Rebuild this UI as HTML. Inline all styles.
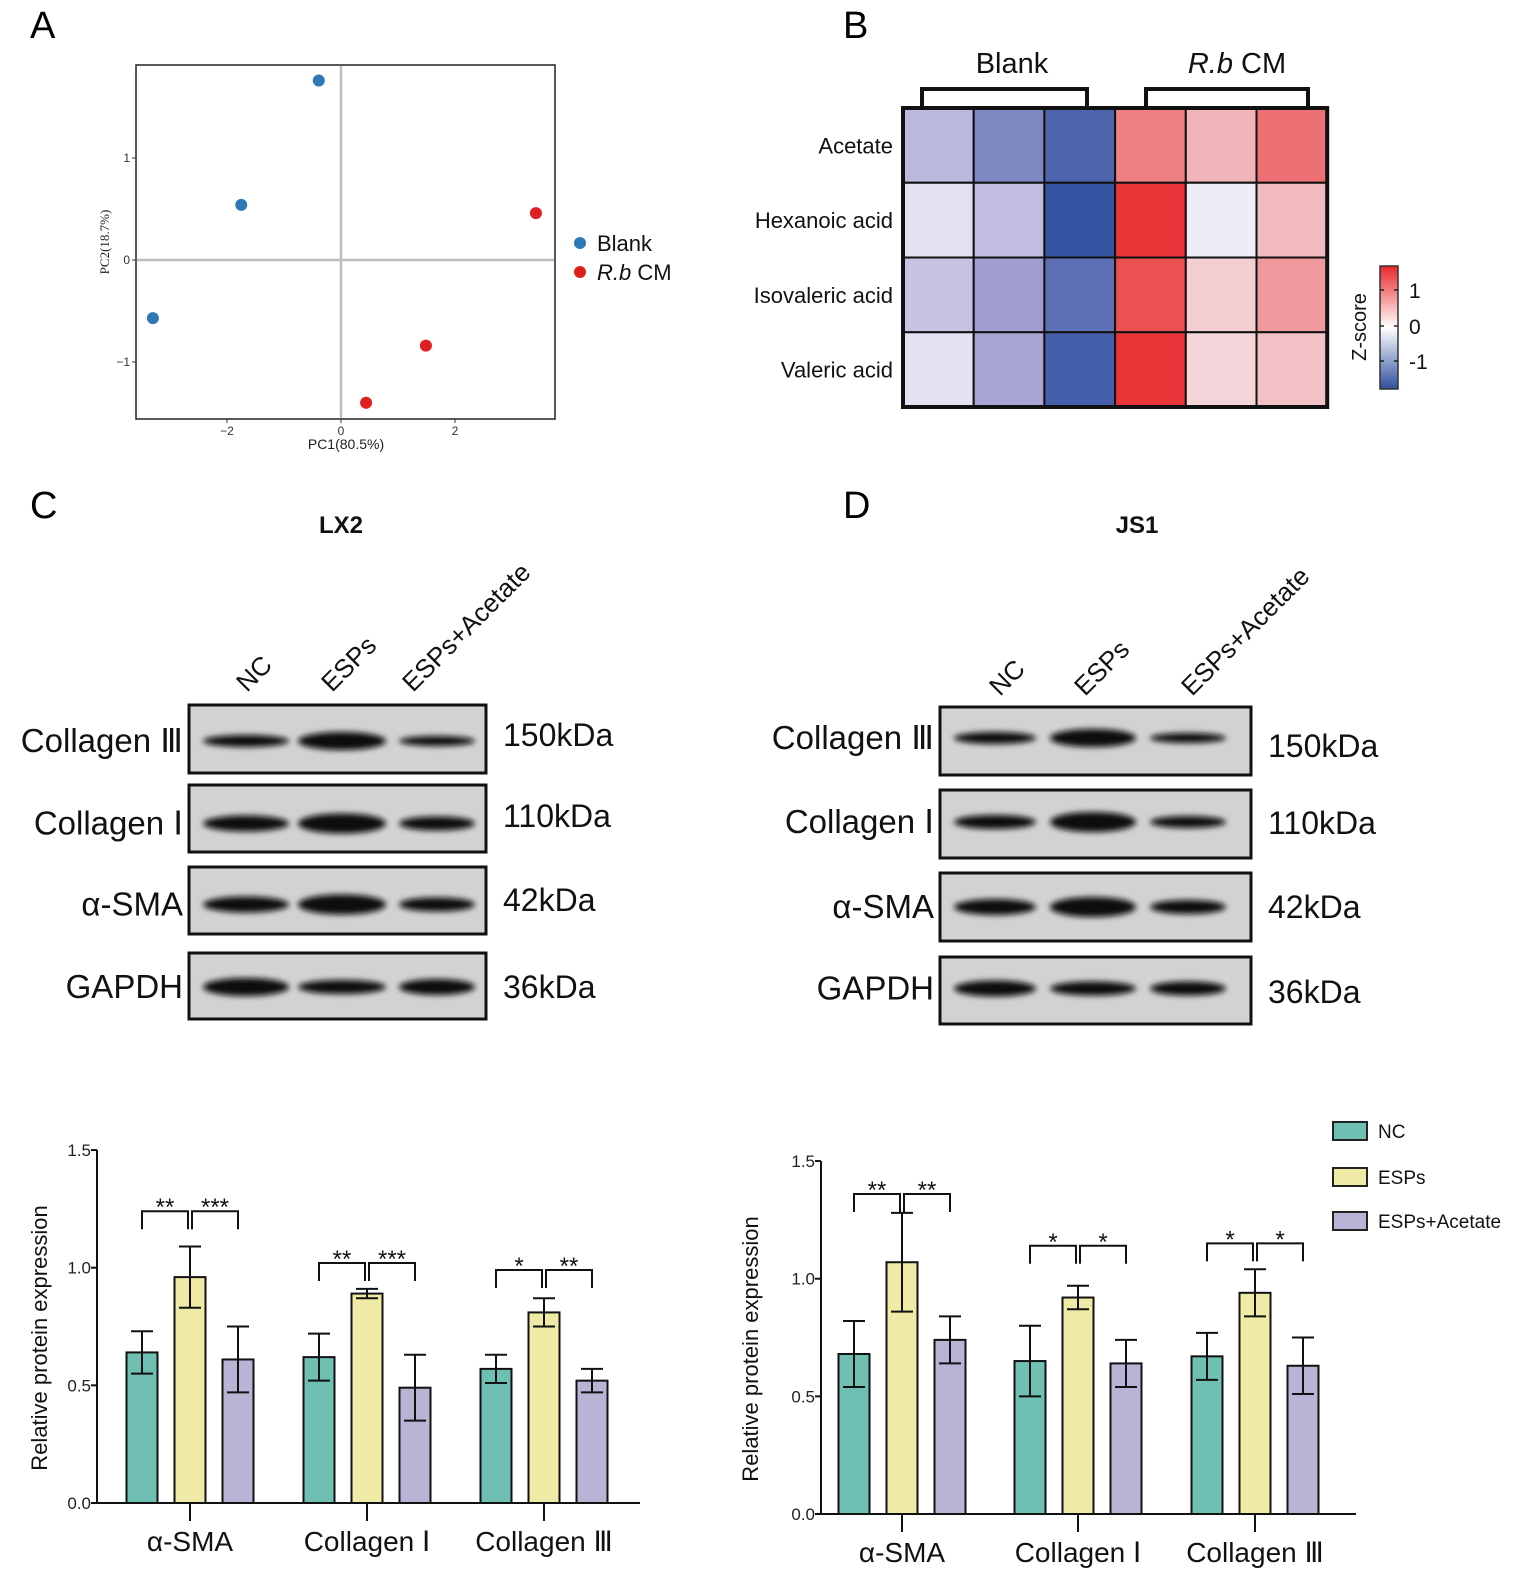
<!DOCTYPE html>
<html><head><meta charset="utf-8">
<style>
html,body{margin:0;padding:0;background:#fff;}
svg{display:block;font-family:"Liberation Sans",Arial,sans-serif;}
</style></head>
<body>
<svg id="fig" width="1535" height="1589" viewBox="0 0 1535 1589" xmlns="http://www.w3.org/2000/svg">
<defs>
  <filter id="blur" x="-20%" y="-100%" width="140%" height="300%"><feGaussianBlur stdDeviation="3"/></filter>
  <linearGradient id="zgrad" x1="0" y1="1" x2="0" y2="0">
    <stop offset="0" stop-color="#2f4fa0"/>
    <stop offset="0.5" stop-color="#ffffff"/>
    <stop offset="1" stop-color="#e8282a"/>
  </linearGradient>
</defs>
<text x="30" y="38" font-size="38">A</text>
<text x="843" y="38" font-size="38">B</text>
<text x="30" y="518" font-size="38">C</text>
<text x="843" y="518" font-size="38">D</text>

<g id="pca"></g>
<g id="heat"></g>
<g id="blotL"></g>
<g id="blotR"></g>
<g id="barL"></g>
<g id="barR"></g>
</svg>
<script>
// ---------- PCA data ----------
const pcaBlankX = [-0.39, -1.75, -3.3];
const pcaBlankY = [1.76, 0.54, -0.57];
const pcaRbX = [3.42, 1.49, 0.44];
const pcaRbY = [0.46, -0.84, -1.4];
const pcaXTicks = [-2, 0, 2];
const pcaYTicks = [-1, 0, 1];

// ---------- Heatmap data ----------
const heatRows = ["Acetate","Hexanoic acid","Isovaleric acid","Valeric acid"];
const heatCols = ["B1","B2","B3","R1","R2","R3"];
const heatAcetate = [-0.55, -1.0, -1.3, 0.85, 0.45, 0.95];
const heatHexanoic = [-0.15, -0.5, -1.45, 1.4, -0.05, 0.4];
const heatIsovaleric = [-0.45, -0.8, -1.2, 1.2, 0.25, 0.65];
const heatValeric = [-0.15, -0.75, -1.35, 1.4, 0.2, 0.35];

// ---------- Bar data ----------
const barCategories = ["α-SMA","Collagen Ⅰ","Collagen Ⅲ"];
const barGroups = ["NC","ESPs","ESPs+Acetate"];
const lxNC = [0.64, 0.62, 0.57];
const lxNCErr = [0.09, 0.10, 0.06];
const lxESPs = [0.96, 0.89, 0.81];
const lxESPsErr = [0.13, 0.02, 0.06];
const lxAc = [0.61, 0.49, 0.52];
const lxAcErr = [0.14, 0.14, 0.05];
const lxSigLeft = ["**","**","*"];
const lxSigRight = ["***","***","**"];
const lxSigLevel = [1.24, 1.02, 0.99];
const jsNC = [0.68, 0.65, 0.67];
const jsNCErr = [0.14, 0.15, 0.10];
const jsESPs = [1.07, 0.92, 0.94];
const jsESPsErr = [0.21, 0.05, 0.10];
const jsAc = [0.74, 0.64, 0.63];
const jsAcErr = [0.10, 0.10, 0.12];
const jsSigLeft = ["**","*","*"];
const jsSigRight = ["**","*","*"];
const jsSigLevel = [1.36, 1.14, 1.15];
const barYTicks = [0.0, 0.5, 1.0, 1.5];

const NS = "http://www.w3.org/2000/svg";
function mk(parent, tag, attrs, text){
  const e = document.createElementNS(NS, tag);
  for (const k in attrs) e.setAttribute(k, attrs[k]);
  if (text !== undefined) e.textContent = text;
  parent.appendChild(e);
  return e;
}
// label with roman numeral in serif font
function romanText(el, s){
  const m = s.match(/^(.*?)([ⅠⅢ])$/);
  if (m){
    mk(el,'tspan',{},m[1]+' ');
    mk(el,'tspan',{'font-family':'Liberation Serif, serif','font-weight':'normal'},m[2]);
  } else el.textContent = s;
}

// ---------- PCA ----------
(function(){
  const g = document.getElementById('pca');
  const sx = v => 341 + v*57;
  const sy = v => 260 - v*102;
  let r = mk(g,'rect',{x:136,y:65,width:419,height:354,fill:'#fff',stroke:'#222','stroke-width':1.5});
   
  let l = mk(g,'line',{x1:sx(0),y1:66,x2:sx(0),y2:418,stroke:'#bdbdbd','stroke-width':2.5});
   
  l = mk(g,'line',{x1:137,y1:sy(0),x2:554,y2:sy(0),stroke:'#bdbdbd','stroke-width':2.5});
   
  pcaXTicks.forEach(t=>{
    let tk = mk(g,'line',{x1:sx(t),y1:419,x2:sx(t),y2:423,stroke:'#333'});
     
    let tx = mk(g,'text',{x:sx(t),y:435,'font-size':12,'text-anchor':'middle',fill:'#333'}, t<0?('−'+(-t)):String(t));
     
  });
  pcaYTicks.forEach(t=>{
    let tk = mk(g,'line',{x1:132,y1:sy(t),x2:136,y2:sy(t),stroke:'#333'});
     
    let tx = mk(g,'text',{x:130,y:sy(t)+4,'font-size':12,'text-anchor':'end',fill:'#333'}, t<0?('−'+(-t)):String(t));
     
  });
  let xt = mk(g,'text',{x:346,y:449,'font-size':14,'text-anchor':'middle',fill:'#222'},'PC1(80.5%)');
   
  let yt = mk(g,'text',{x:0,y:0,'font-size':13,'text-anchor':'middle',fill:'#222','font-family':'Liberation Serif, serif',transform:'translate(109,242) rotate(-90)'},'PC2(18.7%)');
   
  pcaBlankX.forEach((v,i)=>{
    let c = mk(g,'circle',{cx:sx(v),cy:sy(pcaBlankY[i]),r:6,fill:'#2f78b7'});
     
  });
  pcaRbX.forEach((v,i)=>{
    let c = mk(g,'circle',{cx:sx(v),cy:sy(pcaRbY[i]),r:6,fill:'#df2020'});
     
  });
  let c1 = mk(g,'circle',{cx:580,cy:243,r:6,fill:'#2f78b7'});
   
  let t1 = mk(g,'text',{x:597,y:251,'font-size':22,fill:'#111'},'Blank');
   
  let c2 = mk(g,'circle',{cx:580,cy:272,r:6,fill:'#df2020'});
   
  let t2 = mk(g,'text',{x:597,y:280,'font-size':22,fill:'#111'});
   
  mk(t2,'tspan',{'font-style':'italic'},'R.b');
  mk(t2,'tspan',{},' CM');
})();

// ---------- Heatmap ----------
(function(){
  const g = document.getElementById('heat');
  const x0=903, y0=108, cw=70.7, rh=74.75;
  function lerp(a,b,t){ return a.map((v,i)=>Math.round(v+(b[i]-v)*t)); }
  function col(z){
    z = Math.max(-1.5, Math.min(1.5, z))/1.5;
    let c;
    if (z<0){
      z=-z;
      const mid=[168,164,212];
      c = z<0.5 ? lerp([242,242,250],mid,z/0.5) : lerp(mid,[45,78,160],(z-0.5)/0.5);
    } else {
      c = lerp([245,240,245],[232,40,42],z);
    }
    return 'rgb('+c.join(',')+')';
  }
  const data = [heatAcetate, heatHexanoic, heatIsovaleric, heatValeric];
  data.forEach((row,ri)=>{
    row.forEach((v,ci)=>{
      let r = mk(g,'rect',{x:x0+ci*cw,y:y0+ri*rh,width:cw,height:rh,fill:col(v),stroke:'#111','stroke-width':2});
       
    });
    let t = mk(g,'text',{x:893,y:y0+ri*rh+rh/2+8,'font-size':22,'text-anchor':'end',fill:'#111'},heatRows[ri]);
     
  });
  let fr = mk(g,'rect',{x:x0,y:y0,width:cw*6,height:rh*4,fill:'none',stroke:'#111','stroke-width':4});
   
  let b1 = mk(g,'path',{d:'M922 106 V89 H1087 V106',fill:'none',stroke:'#111','stroke-width':4});
   
  let b2 = mk(g,'path',{d:'M1146 106 V89 H1308 V106',fill:'none',stroke:'#111','stroke-width':4});
   
  let g1 = mk(g,'text',{x:1012,y:73,'font-size':29,'text-anchor':'middle',fill:'#111'},'Blank');
   
  let g2 = mk(g,'text',{x:1237,y:73,'font-size':29,'text-anchor':'middle',fill:'#111'});
   
  mk(g2,'tspan',{'font-style':'italic'},'R.b'); mk(g2,'tspan',{},' CM');
  let cb = mk(g,'rect',{x:1380,y:266,width:18,height:123,fill:'url(#zgrad)',stroke:'#333','stroke-width':1.5});
   
  [[1,290],[0,326],[-1,361]].forEach(p=>{
    let tk = mk(g,'line',{x1:1380,y1:p[1],x2:1398,y2:p[1],stroke:'#222','stroke-width':1.5,'stroke-dasharray':'4 10'});
     
    let t = mk(g,'text',{x:1409,y:p[1]+8,'font-size':21,fill:'#111'},p[0]<0?'-1':String(p[0]));
     
  });
  let zt = mk(g,'text',{x:0,y:0,'font-size':20,'text-anchor':'middle',fill:'#111',transform:'translate(1366,327) rotate(-90)'},'Z-score');
   
})();

// ---------- Western blots ----------
function blot(id, cfg){
  const g = document.getElementById(id);
  let title = mk(g,'text',{x:cfg.titleX,y:cfg.titleY,'font-size':24,'font-weight':'bold','text-anchor':'middle',fill:'#111'},cfg.title);
   
  cfg.laneLabels.forEach((s,i)=>{
    let t = mk(g,'text',{x:0,y:0,'font-size':26,fill:'#111',transform:'translate('+cfg.laneLabelX[i]+','+cfg.laneLabelY+') rotate(-45)'},s);
     
  });
  cfg.rows.forEach((r,ri)=>{
    let bg = mk(g,'rect',{x:cfg.x,y:r[0],width:cfg.w,height:r[1]-r[0],fill:'#d2d2d2',stroke:'#111','stroke-width':3});
     
    const cy = (r[0]+r[1])/2 + cfg.bandOff[ri];
    cfg.lanes.forEach((lx,li)=>{
      const th = cfg.thick[ri][li];
      let e = mk(g,'ellipse',{cx:lx,cy:cy,rx:cfg.laneW[li]/2,ry:th,fill:'#0a0a0a',filter:'url(#blur)'});
       
    });
    let lab = mk(g,'text',{x:cfg.x-6,y:cy+11,'font-size':33,'text-anchor':'end',fill:'#111'});
    romanText(lab, cfg.names[ri]);
     
    let kd = mk(g,'text',{x:cfg.kdX,y:cfg.kdY[ri],'font-size':32,fill:'#111'},cfg.kda[ri]);
     
  });
}
blot('blotL',{title:'LX2',titleX:341,titleY:533,laneLabels:['NC','ESPs','ESPs+Acetate'],laneLabelX:[247,332,413],laneLabelY:693,
  x:189,w:297,rows:[[705,773],[785,852],[867,934],[953,1019]],bandOff:[2,5,4,1],lanes:[246,342,437],laneW:[86,88,76],
  thick:[[6,9,5],[8,10,7],[8,10,7],[9,7,8]],names:['Collagen Ⅲ','Collagen Ⅰ','α-SMA','GAPDH'],kdX:503,kdY:[746,827,911,998],kda:['150kDa','110kDa','42kDa','36kDa']});
blot('blotR',{title:'JS1',titleX:1137,titleY:533,laneLabels:['NC','ESPs','ESPs+Acetate'],laneLabelX:[1000,1085,1192],laneLabelY:697,
  x:940,w:311,rows:[[707,775],[790,858],[873,941],[957,1024]],bandOff:[-3,-2,0,-2],lanes:[995,1093,1188],laneW:[82,86,76],
  thick:[[6,9,5],[7,10,6],[8,10,7],[8,7,7]],names:['Collagen Ⅲ','Collagen Ⅰ','α-SMA','GAPDH'],kdX:1268,kdY:[757,834,918,1003],kda:['150kDa','110kDa','42kDa','36kDa']});

// ---------- Bar charts ----------
const colNC = '#6fbfb3', colESP = '#efeaa6', colAc = '#b8b4d6';
function barChart(id, cfg){
  const g = document.getElementById(id);
  const k = 235.3;
  const sy = v => cfg.y0 - v*k;
  const series = [[cfg.nc,cfg.ncE,colNC],[cfg.esp,cfg.espE,colESP],[cfg.ac,cfg.acE,colAc]];
  let ya = mk(g,'line',{x1:cfg.ax,y1:sy(1.5),x2:cfg.ax,y2:cfg.y0,stroke:'#111','stroke-width':2});
   
  let xa = mk(g,'line',{x1:cfg.ax,y1:cfg.y0,x2:cfg.axEnd,y2:cfg.y0,stroke:'#111','stroke-width':2});
   
  barYTicks.forEach(t=>{
    let tk = mk(g,'line',{x1:cfg.ax-6,y1:sy(t),x2:cfg.ax,y2:sy(t),stroke:'#111','stroke-width':2});
     
    let tx = mk(g,'text',{x:cfg.ax-6,y:sy(t)+6,'font-size':17,'text-anchor':'end',fill:'#222'},t.toFixed(1));
     
  });
  let yt = mk(g,'text',{x:0,y:0,'font-size':22,'text-anchor':'middle',fill:'#111',transform:'translate('+cfg.ytX+','+(cfg.y0-165)+') rotate(-90)'},'Relative protein expression');
   
  const bw = 31;
  barCategories.forEach((cat,ci)=>{
    const cx = cfg.centers[ci];
    let tk = mk(g,'line',{x1:cx,y1:cfg.y0,x2:cx,y2:cfg.y0+18,stroke:'#111','stroke-width':2});
     
    let lab = mk(g,'text',{x:cx,y:cfg.y0+48,'font-size':28,'text-anchor':'middle',fill:'#111'});
    romanText(lab, cat);
     
    series.forEach((s,si)=>{
      const bx = cx + (si-1)*cfg.gap;
      const v = s[0][ci], e = s[1][ci];
      let r = mk(g,'rect',{x:bx-bw/2,y:sy(v),width:bw,height:sy(0)-sy(v),fill:s[2],stroke:'#111','stroke-width':2});
       
      let el = mk(g,'path',{d:'M'+bx+' '+sy(v+e)+' V'+sy(v-e)+' M'+(bx-11)+' '+sy(v+e)+' h22 M'+(bx-11)+' '+sy(v-e)+' h22',stroke:'#111','stroke-width':2,fill:'none'});
       
    });
    const lv = sy(cfg.sig[ci]);
    const x1 = cx-cfg.gap, x2 = cx-2, x3 = cx+2, x4 = cx+cfg.gap;
    let br1 = mk(g,'path',{d:'M'+x1+' '+(lv+18)+' V'+lv+' H'+x2+' V'+(lv+18),stroke:'#111','stroke-width':2,fill:'none'});
     
    let br2 = mk(g,'path',{d:'M'+x3+' '+(lv+18)+' V'+lv+' H'+x4+' V'+(lv+18),stroke:'#111','stroke-width':2,fill:'none'});
     
    let s1 = mk(g,'text',{x:(x1+x2)/2,y:lv+4,'font-size':24,'text-anchor':'middle',fill:'#111'},cfg.sigL[ci]);
     
    let s2 = mk(g,'text',{x:(x3+x4)/2,y:lv+4,'font-size':24,'text-anchor':'middle',fill:'#111'},cfg.sigR[ci]);
     
  });
}
barChart('barL',{y0:1503,ax:97,axEnd:640,ytX:47,centers:[190,367,544],gap:48,
  nc:lxNC,ncE:lxNCErr,esp:lxESPs,espE:lxESPsErr,ac:lxAc,acE:lxAcErr,sig:lxSigLevel,sigL:lxSigLeft,sigR:lxSigRight});
barChart('barR',{y0:1514,ax:821,axEnd:1356,ytX:758,centers:[902,1078,1255],gap:48,
  nc:jsNC,ncE:jsNCErr,esp:jsESPs,espE:jsESPsErr,ac:jsAc,acE:jsAcErr,sig:jsSigLevel,sigL:jsSigLeft,sigR:jsSigRight});

// legend
(function(){
  const g = document.getElementById('barR');
  const cols = [colNC,colESP,colAc];
  const ys = [1131,1177,1221];
  barGroups.forEach((n,i)=>{
    let r = mk(g,'rect',{x:1333,y:ys[i]-9,width:34,height:18,fill:cols[i],stroke:'#222','stroke-width':2});
     
    let t = mk(g,'text',{x:1378,y:ys[i]+7,'font-size':19,fill:'#111'},n);
     
  });
})();
</script>
</body></html>
